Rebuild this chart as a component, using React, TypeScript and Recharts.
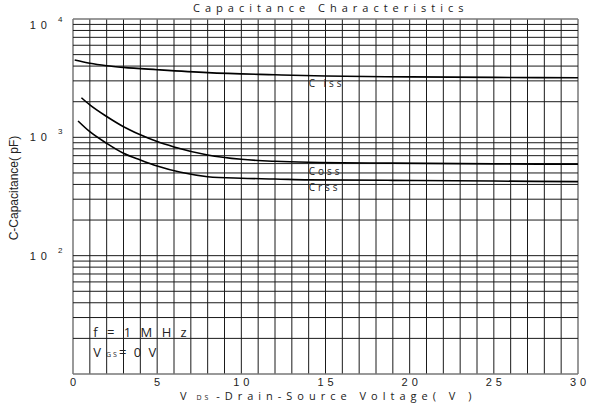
import React from 'react';
import { LineChart, Line, XAxis, YAxis, ReferenceLine, ReferenceDot } from 'recharts';

const VDS_CISS = [0.1, 1, 2, 3, 5, 8, 12, 15, 20, 25, 30];
const CISS = [4500, 4225, 4030, 3900, 3730, 3520, 3380, 3300, 3240, 3210, 3190];
const VDS_COSS = [0.5, 1, 2, 3, 4, 5, 6, 8, 10, 12, 14, 19, 25, 30];
const COSS = [2160, 1880, 1500, 1230, 1050, 920, 830, 710, 652, 627, 615, 605, 597, 592];
const VDS_CRSS = [0.3, 1, 2, 3, 4, 5, 6.4, 8, 10, 12, 14, 19, 25, 30];
const CRSS = [1375, 1115, 890, 733, 643, 572, 506, 465, 451, 445, 437, 433, 427, 422];

const X_TICKS = [0, 5, 10, 15, 20, 25, 30];
const Y_TICKS = [100, 1000, 10000];
const X_GRID = Array.from({ length: 31 }, (_, i) => i);
const DECADES = [10, 100, 1000];
const MULTS = [1, 2, 3, 4, 5, 6, 7, 8, 9];
const Y_GRID = [...DECADES.flatMap((d) => MULTS.map((m) => m * d)), 10000];

const LABELS = [
  { x: 14, y: 2878, text: 'C iss' },
  { x: 14, y: 522, text: 'Coss' },
  { x: 14, y: 380, text: 'Crss' },
];

const toData = (xs: number[], ys: number[]) => xs.map((v, i) => ({ v, c: ys[i] }));
const cissData = toData(VDS_CISS, CISS);
const cossData = toData(VDS_COSS, COSS);
const crssData = toData(VDS_CRSS, CRSS);

const SANS = '"Liberation Sans", Arial, sans-serif';
const OPEN = '"Open Sans", "Liberation Sans", sans-serif';

const YTick = (props: any) => {
  const { x, y, payload } = props;
  const exp = Math.round(Math.log10(payload.value));
  const dy = payload.value === 10000 ? 6 : 0;
  return (
    <g>
      <text x={x - 21} y={y + dy + 4} textAnchor="end" fontFamily={SANS} fontSize={11} letterSpacing={5} fill="#222">
        10
      </text>
      <text x={x - 15} y={y + dy - 3} textAnchor="start" fontFamily={SANS} fontSize={8} fill="#222">
        {exp}
      </text>
    </g>
  );
};

const XTick = (props: any) => {
  const { x, y, payload } = props;
  return (
    <text x={x + 2} y={y + 12} textAnchor="middle" fontFamily={SANS} fontSize={11} letterSpacing={4} fill="#222">
      {payload.value}
    </text>
  );
};

export default function App() {
  return (
    <div style={{ position: 'absolute', left: 0, top: 0, width: 590, height: 410, background: '#fff' }}>
      <div
        style={{
          position: 'absolute',
          left: 193,
          top: 1,
          fontFamily: OPEN,
          fontSize: 11,
          letterSpacing: 5,
          color: '#222',
          whiteSpace: 'nowrap',
          lineHeight: '14px',
        }}
      >
        Capacitance Characteristics
      </div>
      <div
        style={{
          position: 'absolute',
          left: 180,
          top: 389,
          fontFamily: OPEN,
          fontSize: 11,
          letterSpacing: 5,
          color: '#222',
          whiteSpace: 'nowrap',
          lineHeight: '14px',
        }}
      >
        V<span style={{ fontSize: 7, letterSpacing: 3 }}> DS </span>-Drain-Source Voltage( V )
      </div>
      <div
        style={{
          position: 'absolute',
          left: 14,
          top: 188,
          transform: 'translate(-50%, -50%) rotate(-90deg)',
          fontFamily: SANS,
          fontSize: 12,
          color: '#222',
          whiteSpace: 'pre',
          lineHeight: '14px',
        }}
      >
        C-Capacitance( pF)
      </div>
      <LineChart width={590} height={410} margin={{ top: 19, right: 12, bottom: 0, left: 0 }}>
        <XAxis
          dataKey="v"
          type="number"
          domain={[0, 30]}
          ticks={X_TICKS}
          axisLine={false}
          tickLine={false}
          tickSize={0}
          tickMargin={0}
          height={36}
          tick={<XTick />}
          allowDuplicatedCategory={false}
        />
        <YAxis
          dataKey="c"
          type="number"
          scale="log"
          domain={[10, 10000]}
          allowDataOverflow
          ticks={Y_TICKS}
          axisLine={false}
          tickLine={false}
          tickSize={0}
          tickMargin={0}
          width={73}
          tick={<YTick />}
        />
        {X_GRID.map((v) => (
          <ReferenceLine
            key={'vx' + v}
            x={v}
            stroke={v === 0 || v === 30 ? '#777' : '#1a1a1a'}
            strokeWidth={v === 0 || v === 30 ? 1.5 : 1}
          />
        ))}
        {Y_GRID.map((v) => (
          <ReferenceLine
            key={'hy' + v}
            y={v}
            stroke={v === 10 || v === 10000 ? '#777' : '#1a1a1a'}
            strokeWidth={v === 10 || v === 10000 ? 1.5 : 1}
          />
        ))}
        <Line data={cissData} dataKey="c" type="monotone" stroke="#000" strokeWidth={1.6} dot={false} isAnimationActive={false} />
        <Line data={cossData} dataKey="c" type="monotone" stroke="#000" strokeWidth={1.6} dot={false} isAnimationActive={false} />
        <Line data={crssData} dataKey="c" type="monotone" stroke="#000" strokeWidth={1.6} dot={false} isAnimationActive={false} />
        {LABELS.map((l) => (
          <ReferenceDot
            key={l.text}
            x={l.x}
            y={l.y}
            r={0}
            shape={(p: any) => (
              <text x={p.cx} y={p.cy + 4} fontFamily={OPEN} fontSize={10} letterSpacing={3} fill="#222">
                {l.text}
              </text>
            )}
          />
        ))}
        <ReferenceDot
          x={1.2}
          y={22.8}
          r={0}
          shape={(p: any) => (
            <text x={p.cx} y={p.cy + 5} fontFamily={OPEN} fontSize={13} letterSpacing={3} fill="#222">
              f = 1 M H z
            </text>
          )}
        />
        <ReferenceDot
          x={1.2}
          y={15.4}
          r={0}
          shape={(p: any) => (
            <text x={p.cx} y={p.cy + 5} fontFamily={OPEN} fontSize={13} fill="#222">
              V
              <tspan fontSize={7} dx={5} letterSpacing={2}>GS</tspan>
              <tspan letterSpacing={2}>= 0 V</tspan>
            </text>
          )}
        />
      </LineChart>
    </div>
  );
}
